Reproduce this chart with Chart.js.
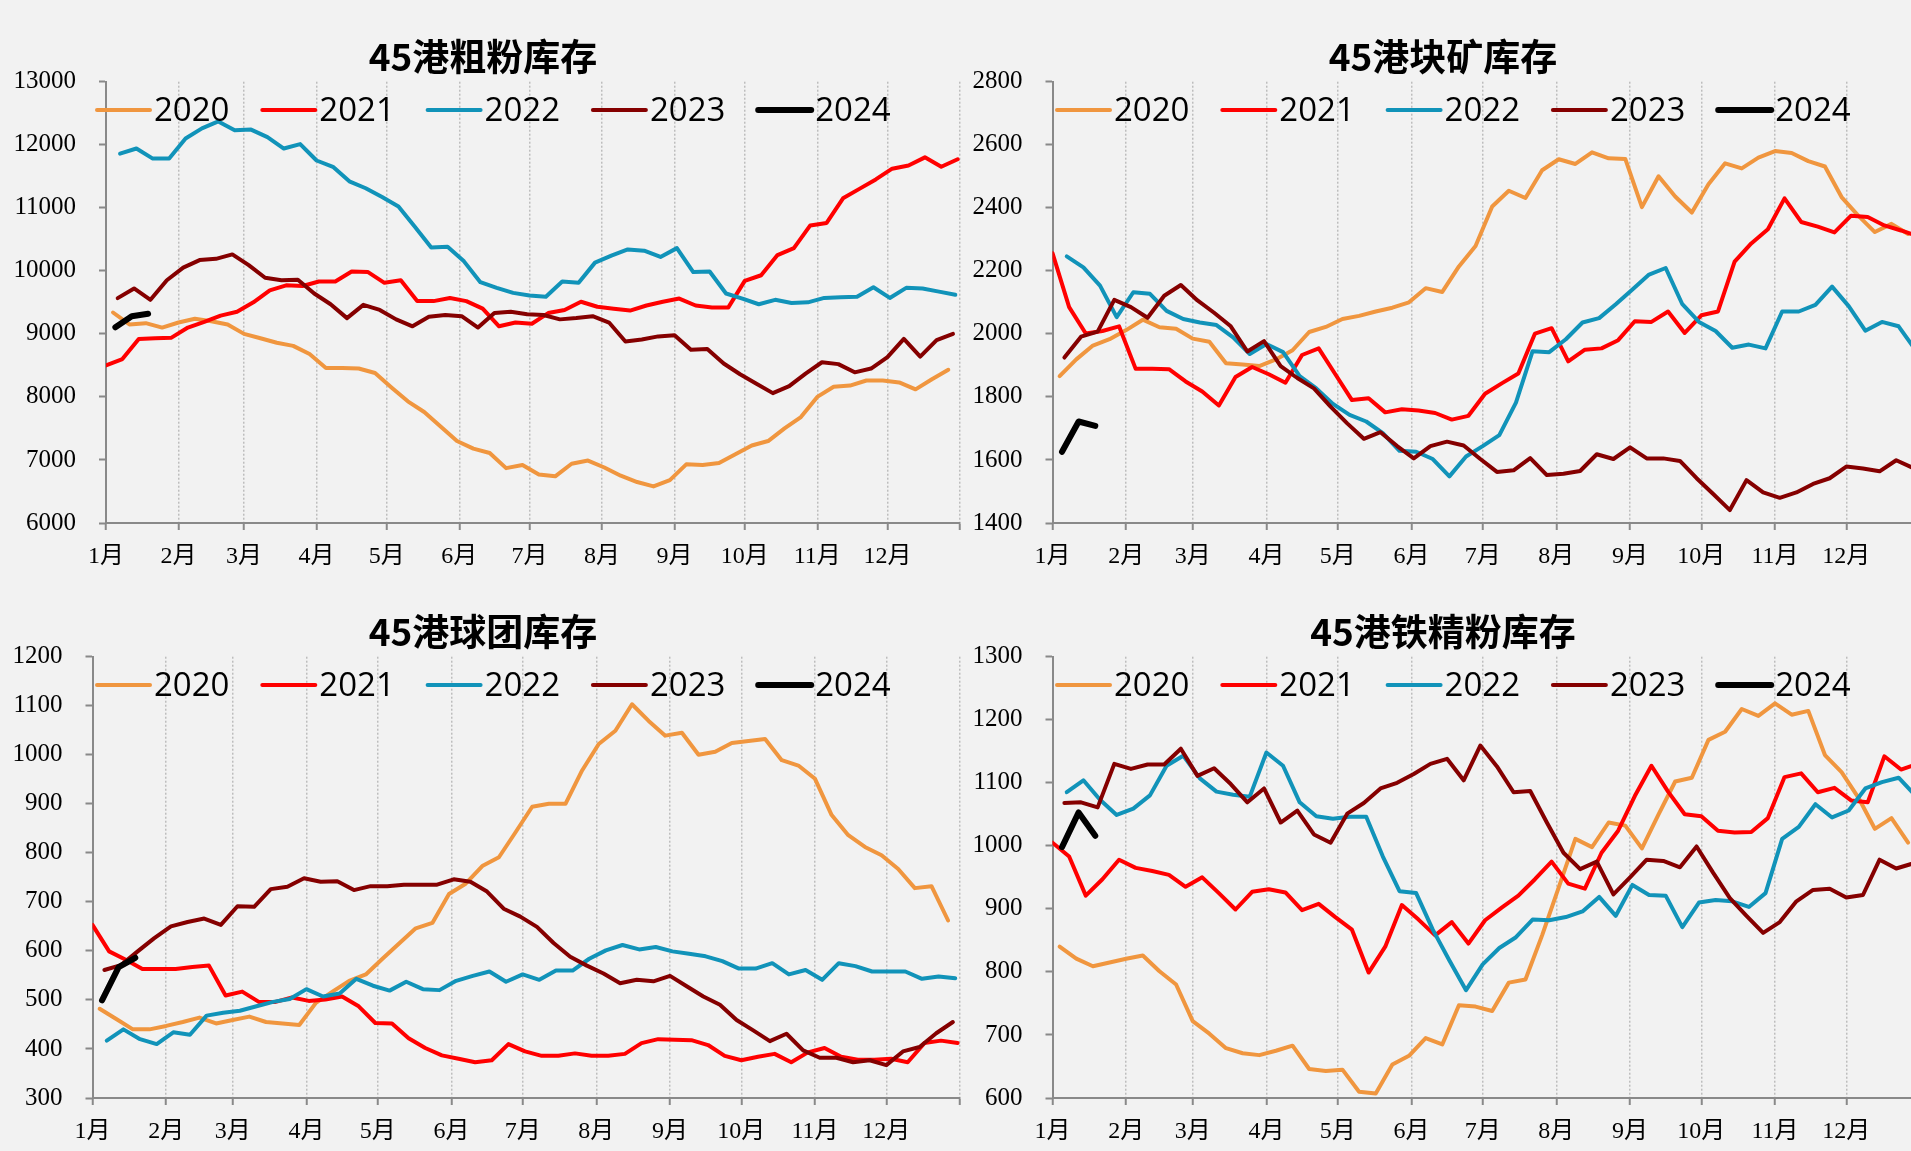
<!DOCTYPE html>
<html>
<head>
<meta charset="utf-8">
<title>45港库存</title>
<script src="https://cdn.jsdelivr.net/npm/chart.js@4.4.1/dist/chart.umd.min.js"></script>
<style>
  html, body { margin: 0; padding: 0; }
  body { width: 1911px; height: 1151px; background: #f2f2f2; overflow: hidden; position: relative; }
  canvas { position: absolute; }
</style>
</head>
<body>
<canvas id="cCoarse" width="972" height="575" style="left:0px;top:0px"></canvas>
<canvas id="cLump" width="972" height="575" style="left:960px;top:0px"></canvas>
<canvas id="cPellet" width="972" height="575" style="left:0px;top:575px"></canvas>
<canvas id="cConc" width="972" height="575" style="left:960px;top:575px"></canvas>
<script>
// 横轴：按日计（一年365天），月份刻度
const monthLabels = ['1月', '2月', '3月', '4月', '5月', '6月', '7月', '8月', '9月', '10月', '11月', '12月'];
const monthStart = [0, 31, 59, 90, 120, 151, 181, 212, 243, 273, 304, 334];

// 年份及每年首个周度数据所在的日期（第几天）
const yearLabels = ['2020', '2021', '2022', '2023', '2024'];
const yearStart = [3, 0, 6, 5, 4];
const yearColors = ['#f0963f', '#ff0000', '#1193b9', '#850000', '#000000'];

// 45港粗粉库存（周度）
const coarse2020 = [9339, 9150, 9170, 9100, 9180, 9240, 9200, 9150, 9000, 8930,
  8860, 8810, 8680, 8460, 8460, 8450, 8380, 8150, 7930, 7760,
  7530, 7300, 7180, 7110, 6870, 6920, 6770, 6740, 6940, 6990,
  6880, 6750, 6650, 6580, 6680, 6930, 6920, 6950, 7090, 7230,
  7300, 7500, 7680, 8000, 8160, 8180, 8260, 8260, 8230, 8120,
  8280, 8430];
const coarse2021 = [8501, 8600, 8920, 8930, 8940, 9100, 9190, 9290, 9350, 9500,
  9690, 9770, 9760, 9830, 9830, 9990, 9980, 9810, 9850, 9520,
  9520, 9570, 9520, 9400, 9120, 9180, 9160, 9330, 9380, 9510,
  9430, 9400, 9370, 9450, 9510, 9560, 9450, 9420, 9420, 9840,
  9930, 10250, 10360, 10720, 10760, 11150, 11300, 11450, 11620, 11670,
  11800, 11650, 11770];
const coarse2022 = [11858, 11940, 11780, 11780, 12100, 12260, 12370, 12230, 12240, 12120,
  11940, 12010, 11750, 11650, 11420, 11310, 11170, 11020, 10700, 10370,
  10380, 10150, 9820, 9730, 9650, 9610, 9590, 9830, 9810, 10130,
  10240, 10340, 10320, 10220, 10360, 9980, 9990, 9640, 9560, 9470,
  9540, 9490, 9500, 9570, 9580, 9590, 9740, 9570, 9730, 9720,
  9670, 9620];
const coarse2023 = [9567, 9720, 9540, 9850, 10050, 10170, 10190, 10260, 10090, 9890,
  9850, 9860, 9640, 9470, 9250, 9460, 9380, 9230, 9120, 9270,
  9300, 9280, 9100, 9330, 9350, 9310, 9300, 9230, 9250, 9280,
  9180, 8880, 8910, 8960, 8980, 8750, 8760, 8530, 8360, 8210,
  8060, 8170, 8370, 8550, 8520, 8390, 8450, 8630, 8920, 8640,
  8900, 9000];
const coarse2024 = [9104, 9280, 9320];

// 45港块矿库存
const lump2020 = [1866, 1919, 1963, 1983, 2012, 2045, 2021, 2016, 1985, 1975,
  1907, 1903, 1898, 1919, 1948, 2006, 2022, 2047, 2057, 2071,
  2083, 2100, 2145, 2133, 2214, 2279, 2404, 2454, 2431, 2519,
  2554, 2539, 2576, 2557, 2555, 2402, 2500, 2436, 2385, 2475,
  2541, 2525, 2559, 2580, 2574, 2548, 2531, 2434, 2375, 2323,
  2349, 2317];
const lump2021 = [2256, 2085, 2001, 2009, 2024, 1889, 1889, 1888, 1849, 1817,
  1773, 1863, 1895, 1872, 1845, 1933, 1954, 1872, 1790, 1796,
  1751, 1761, 1757, 1749, 1728, 1740, 1810, 1843, 1874, 2001,
  2018, 1913, 1950, 1954, 1980, 2040, 2038, 2071, 2003, 2059,
  2071, 2229, 2287, 2332, 2430, 2355, 2340, 2322, 2375, 2371,
  2344, 2328, 2310];
const lump2022 = [2246, 2211, 2153, 2053, 2132, 2127, 2073, 2047, 2036, 2028,
  1989, 1936, 1968, 1942, 1866, 1827, 1778, 1743, 1722, 1685,
  1629, 1626, 1603, 1548, 1611, 1644, 1679, 1782, 1945, 1942,
  1983, 2036, 2050, 2094, 2141, 2188, 2209, 2094, 2038, 2009,
  1956, 1966, 1954, 2071, 2071, 2092, 2150, 2088, 2010, 2038,
  2024, 1950];
const lump2023 = [1925, 1991, 2007, 2108, 2085, 2051, 2121, 2155, 2106, 2067,
  2024, 1944, 1977, 1898, 1860, 1827, 1769, 1716, 1667, 1688,
  1644, 1605, 1644, 1658, 1646, 1603, 1562, 1567, 1606, 1552,
  1556, 1565, 1618, 1603, 1640, 1605, 1605, 1597, 1542, 1492,
  1441, 1536, 1497, 1480, 1497, 1524, 1542, 1579, 1573, 1564,
  1599, 1575];
const lump2024 = [1626, 1722, 1708];

// 45港球团库存
const pellet2020 = [482, 461, 440, 440, 447, 455, 464, 452, 459, 466,
  455, 452, 449, 494, 517, 539, 552, 584, 615, 646,
  657, 716, 737, 773, 791, 842, 894, 900, 900, 968,
  1022, 1049, 1103, 1069, 1039, 1045, 1000, 1006, 1024, 1028,
  1032, 989, 978, 951, 877, 836, 812, 795, 767, 728,
  732, 662];
const pellet2021 = [653, 599, 582, 563, 563, 563, 567, 570, 509, 517,
  496, 496, 505, 498, 501, 507, 487, 453, 452, 422,
  402, 387, 380, 373, 377, 410, 395, 386, 386, 391,
  386, 386, 390, 412, 420, 419, 418, 408, 386, 377,
  384, 390, 373, 393, 402, 384, 378, 378, 380, 373,
  412, 417, 412];
const pellet2022 = [417, 440, 420, 410, 434, 429, 468, 474, 478, 487,
  496, 502, 522, 507, 513, 543, 529, 519, 537, 522,
  520, 539, 549, 558, 537, 552, 541, 560, 560, 584,
  601, 612, 603, 608, 599, 594, 589, 579, 564, 564,
  575, 552, 561, 541, 575, 569, 558, 558, 558, 543,
  548, 544];
const pellet2023 = [561, 571, 599, 626, 650, 659, 666, 653, 691, 690,
  726, 731, 748, 741, 742, 724, 732, 732, 735, 735,
  735, 746, 741, 721, 686, 670, 649, 616, 588, 570,
  554, 534, 541, 538, 549, 528, 507, 490, 459, 438,
  416, 431, 397, 382, 382, 373, 377, 367, 395, 404,
  432, 455];
const pellet2024 = [499, 567, 586];

// 45港铁精粉库存
const conc2020 = [840, 821, 809, 815, 821, 826, 801, 780, 722, 702,
  679, 671, 668, 675, 683, 646, 643, 645, 610, 607,
  653, 667, 695, 685, 747, 745, 738, 783, 788, 858,
  934, 1011, 998, 1037, 1032, 996, 1050, 1102, 1108, 1168,
  1181, 1217, 1206, 1226, 1208, 1214, 1144, 1117, 1077, 1027,
  1044, 1005];
const conc2021 = [1005, 983, 921, 947, 978, 965, 960, 954, 935, 950,
  925, 899, 927, 931, 926, 898, 908, 887, 867, 799,
  840, 906, 883, 858, 879, 845, 882, 902, 921, 947,
  975, 940, 932, 989, 1024, 1079, 1127, 1086, 1050, 1047,
  1024, 1021, 1022, 1044, 1109, 1115, 1085, 1092, 1072, 1069,
  1142, 1121, 1130];
const conc2022 = [1085, 1104, 1073, 1049, 1059, 1080, 1127, 1143, 1107, 1086,
  1081, 1078, 1148, 1127, 1069, 1047, 1043, 1046, 1046, 983,
  928, 925, 867, 818, 771, 812, 838, 855, 883, 882,
  887, 896, 919, 889, 938, 922, 921, 871, 910, 914,
  912, 903, 925, 1011, 1030, 1066, 1045, 1056, 1091, 1101,
  1108, 1080];
const conc2023 = [1068, 1069, 1061, 1130, 1122, 1129, 1129, 1154, 1111, 1123,
  1098, 1069, 1091, 1037, 1056, 1018, 1005, 1051, 1068, 1091,
  1100, 1114, 1130, 1138, 1104, 1159, 1126, 1085, 1087, 1037,
  989, 963, 975, 923, 950, 978, 976, 966, 999, 957,
  917, 889, 862, 879, 912, 930, 932, 918, 922, 978,
  964, 972];
const conc2024 = [998, 1053, 1016];

const AXIS_GRAY = '#898989';

// 图例：画在绘图区内部左上方
const yearLegend = {
    id: 'yearLegend',
    afterDraw(chart) {
        const ctx = chart.ctx;
        ctx.save();
        chart.data.datasets.forEach((ds, i) => {
            const x = 97 + i * 165.3;
            ctx.strokeStyle = ds.borderColor;
            ctx.lineWidth = ds.borderWidth;
            ctx.lineCap = 'round';
            ctx.beginPath();
            ctx.moveTo(x, 110);
            ctx.lineTo(x + 53, 110);
            ctx.stroke();
            ctx.fillStyle = '#000';
            ctx.font = '33px "Open Sans", "Noto Sans", sans-serif';
            ctx.textBaseline = 'alphabetic';
            ctx.textAlign = 'left';
            ctx.fillText(ds.label, x + 57, 121);
        });
        ctx.restore();
    }
};

function makeDatasets(seriesList) {
    return seriesList.map((vals, i) => ({
        label: yearLabels[i],
        data: vals.map((v, k) => ({ x: yearStart[i] + 7 * k, y: v })),
        borderColor: yearColors[i],
        backgroundColor: yearColors[i],
        borderWidth: i === 4 ? 6 : 4,
        pointRadius: 0,
        tension: 0,
        borderJoinStyle: 'round',
        borderCapStyle: 'round',
        order: 4 - i
    }));
}

function drawPanel(canvasId, title, seriesList, yMin, yMax, yStep, yAxisWidth) {
    const el = document.getElementById(canvasId);
    return new Chart(el.getContext('2d'), {
        type: 'line',
        data: { datasets: makeDatasets(seriesList) },
        options: {
            responsive: false,
            animation: false,
            layout: { padding: { left: 0, right: 6, top: 0, bottom: 0 } },
            plugins: {
                legend: { display: false },
                tooltip: { enabled: false },
                title: {
                    display: true,
                    text: title,
                    color: '#000',
                    font: { family: '"Noto Sans CJK SC", sans-serif', size: 37, weight: 'bold' },
                    padding: { top: 35, bottom: 2.3 }
                }
            },
            scales: {
                x: {
                    type: 'linear',
                    min: 0,
                    max: 365,
                    afterBuildTicks: function (scale) {
                        scale.ticks = monthStart.concat([365]).map(v => ({ value: v }));
                    },
                    afterFit: function (scale) { scale.height = 52; },
                    ticks: {
                        autoSkip: false,
                        maxRotation: 0,
                        padding: 12,
                        color: '#000',
                        font: { family: '"Liberation Serif", "Noto Sans CJK SC", serif', size: 24 },
                        callback: function (value, index) { return monthLabels[index] || ''; }
                    },
                    grid: {
                        color: ctx => ctx.index === 0 ? 'rgba(0,0,0,0)' : '#bdbdbd',
                        lineWidth: 1.5,
                        tickLength: 7,
                        tickColor: AXIS_GRAY,
                        tickWidth: 2
                    },
                    border: { color: AXIS_GRAY, width: 2, dash: [2, 2] }
                },
                y: {
                    min: yMin,
                    max: yMax,
                    afterFit: function (scale) { scale.width = yAxisWidth; },
                    ticks: {
                        stepSize: yStep,
                        padding: 23,
                        color: '#000',
                        font: { family: '"Liberation Serif", serif', size: 25 },
                        callback: function (value) { return String(value); }
                    },
                    grid: {
                        drawOnChartArea: false,
                        tickLength: 7,
                        tickColor: AXIS_GRAY,
                        tickWidth: 2
                    },
                    border: { color: AXIS_GRAY, width: 2 }
                }
            }
        },
        plugins: [yearLegend]
    });
}

drawPanel('cCoarse', '45港粗粉库存',
    [coarse2020, coarse2021, coarse2022, coarse2023, coarse2024], 6000, 13000, 1000, 106);
drawPanel('cLump', '45港块矿库存',
    [lump2020, lump2021, lump2022, lump2023, lump2024], 1400, 2800, 200, 92.5);
drawPanel('cPellet', '45港球团库存',
    [pellet2020, pellet2021, pellet2022, pellet2023, pellet2024], 300, 1200, 100, 92.5);
drawPanel('cConc', '45港铁精粉库存',
    [conc2020, conc2021, conc2022, conc2023, conc2024], 600, 1300, 100, 92.5);
</script>
</body>
</html>
